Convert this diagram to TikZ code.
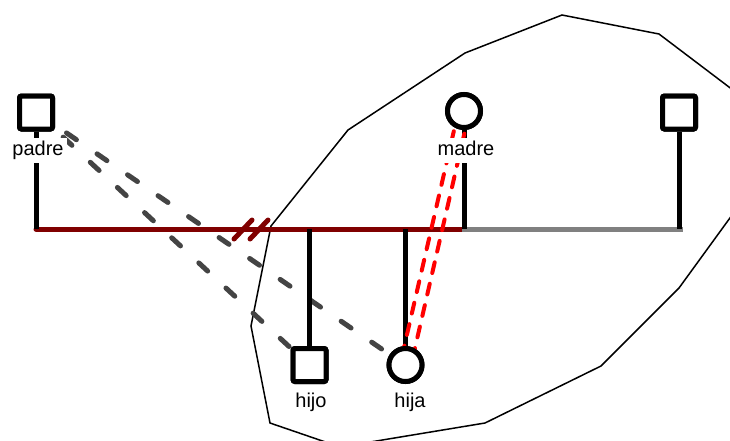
\documentclass[tikz,border=0pt]{standalone}
\usepackage{fontspec}
\setmainfont{Liberation Sans}
\usetikzlibrary{calc}
\definecolor{linkred}{HTML}{800000}
\definecolor{exgray}{HTML}{808080}
\definecolor{dashgray}{HTML}{444444}
\tikzset{
  male/.style={draw=black, line width=5pt, fill=white, minimum size=33pt,
    inner sep=0pt, rounded corners=2pt, shape=rectangle},
  female/.style={draw=black, line width=5pt, fill=white, minimum size=33pt,
    inner sep=0pt, shape=circle},
  namelabel/.style={fill=white, inner sep=3pt, text height=14pt, text depth=5pt,
    anchor=base, font=\fontsize{20pt}{22pt}\selectfont},
  bond/.style={line width=5pt, line cap=round},
  descent/.style={line width=5pt, black},
  household/.style={line width=1.5pt, black, line join=miter},
  distant/.style={line width=5pt, dashgray, line cap=round, dash pattern=on 12pt off 25pt},
  conflict/.style={line width=4pt, red, line cap=round, dash pattern=on 11pt off 11pt},
}
\begin{document}
\begin{tikzpicture}[x=1pt, y=-1pt]
\useasboundingbox (0,0) rectangle (730,440);
\clip (0,0) rectangle (730,440);

% household boundary
\draw[household] (348,130) -- (465,53) -- (562,15) -- (659,34) -- (791,134)
  -- (679,288) -- (601,366) -- (485,423) -- (340,447) -- (270,423)
  -- (251,326) -- (271,226) -- cycle;

% coordinates of the family
\coordinate (pcenter) at (36,112);
\coordinate (hijoc) at (309,365);
\coordinate (hijac) at (405,365);

% distant relationships from father to children
\draw[distant] (pcenter) -- (hijoc);
\draw[distant] (pcenter) -- (hijac);

% partnership lines
\coordinate (bl) at (36,229);
\coordinate (bm) at (464,229);
\coordinate (br) at (680,229);
\draw[bond, linkred, line cap=round] (bl) -- (bm);
\draw[bond, exgray, line cap=rect] (bm) -- (br);

% divorce marks
\coordinate (s1a) at (234,239);
\coordinate (s1b) at (252,220);
\coordinate (s2a) at (250,239);
\coordinate (s2b) at (268,220);
\draw[bond, linkred] (s1a) -- (s1b);
\draw[bond, linkred] (s2a) -- (s2b);

% people
\node[male] (padre) at (36,112.5) {};
\node[female] (madre) at (464,111) {};
\node[male] (otro) at (679,112.5) {};
\node[male] (hijo) at (309.5,365) {};
\node[female] (hija) at (405.5,365) {};

% lines down to the partnership line
\draw[descent] (padre.south) -- (padre.south |- bl);
\draw[descent] (madre.south) -- (madre.south |- bm);
\draw[descent] (otro.south) -- (otro.south |- br);

% children lines
\draw[descent] (hijo.north |- bl) -- (hijo.north);
\draw[descent] (hija.north |- bl) -- (hija.north);

% conflictive relationship mother - daughter
\draw[conflict] ($(madre.center)!5.4pt!90:(hija.center)$) -- ($(hija.center)!5.4pt!-90:(madre.center)$);
\draw[conflict] ($(madre.center)!5.4pt!-90:(hija.center)$) -- ($(hija.center)!5.4pt!90:(madre.center)$);

% redraw the symbols on top
\node[male] at (padre) {};
\node[female] at (madre) {};
\node[male] at (otro) {};
\node[male] at (hijo) {};
\node[female] at (hija) {};

% names
\node[namelabel] (lpadre) at (38,155) {padre};
\node[namelabel] (lmadre) at (466,155) {madre};
\node[namelabel] (lhijo) at (311,407) {hijo};
\node[namelabel] (lhija) at (410,407) {hija};
\end{tikzpicture}
\end{document}
